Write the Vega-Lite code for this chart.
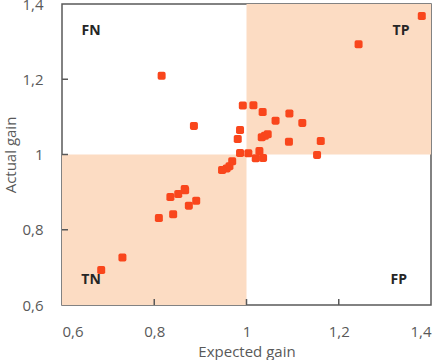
{
  "$schema": "https://vega.github.io/schema/vega-lite/v6.json",
  "width": 369,
  "height": 301,
  "autosize": {"type": "none"},
  "padding": {"left": 62, "top": 4, "right": 13, "bottom": 55},
  "background": "white",
  "config": {
    "font": "Open Sans",
    "view": {"stroke": "#595959", "strokeWidth": 1.5},
    "axis": {
      "grid": false,
      "domain": false,
      "ticks": false,
      "tickSize": 0,
      "labelFont": "Open Sans",
      "labelFontSize": 15,
      "labelColor": "#595959",
      "titleFont": "Open Sans",
      "titleFontSize": 15,
      "titleFontWeight": "normal",
      "titleColor": "#595959"
    }
  },
  "datasets": {
    "quadrants": [
      {"x0": 0.6, "x1": 1.0, "y0": 0.6, "y1": 1.0},
      {"x0": 1.0, "x1": 1.4, "y0": 1.0, "y1": 1.4}
    ],
    "ticks": [
      {"v": 0.8},
      {"v": 1.0},
      {"v": 1.2}
    ],
    "gains": [
      {"expected": 1.380, "actual": 1.368},
      {"expected": 1.243, "actual": 1.293},
      {"expected": 0.816, "actual": 1.209},
      {"expected": 0.886, "actual": 1.076},
      {"expected": 0.992, "actual": 1.130},
      {"expected": 1.015, "actual": 1.131},
      {"expected": 1.035, "actual": 1.113},
      {"expected": 1.093, "actual": 1.109},
      {"expected": 1.063, "actual": 1.090},
      {"expected": 1.121, "actual": 1.084},
      {"expected": 0.986, "actual": 1.065},
      {"expected": 0.981, "actual": 1.041},
      {"expected": 1.033, "actual": 1.046},
      {"expected": 1.040, "actual": 1.050},
      {"expected": 1.046, "actual": 1.054},
      {"expected": 1.092, "actual": 1.034},
      {"expected": 1.161, "actual": 1.036},
      {"expected": 0.986, "actual": 1.004},
      {"expected": 1.004, "actual": 1.003},
      {"expected": 1.028, "actual": 1.009},
      {"expected": 1.020, "actual": 0.990},
      {"expected": 1.036, "actual": 0.991},
      {"expected": 1.153, "actual": 0.999},
      {"expected": 0.969, "actual": 0.982},
      {"expected": 0.963, "actual": 0.969},
      {"expected": 0.957, "actual": 0.963},
      {"expected": 0.947, "actual": 0.959},
      {"expected": 0.866, "actual": 0.908},
      {"expected": 0.835, "actual": 0.887},
      {"expected": 0.852, "actual": 0.895},
      {"expected": 0.867, "actual": 0.905},
      {"expected": 0.875, "actual": 0.864},
      {"expected": 0.891, "actual": 0.877},
      {"expected": 0.810, "actual": 0.831},
      {"expected": 0.841, "actual": 0.841},
      {"expected": 0.731, "actual": 0.726},
      {"expected": 0.685, "actual": 0.693}
    ],
    "labels": [
      {"expected": 0.663, "actual": 1.328, "text": "FN"},
      {"expected": 1.335, "actual": 1.328, "text": "TP"},
      {"expected": 0.663, "actual": 0.667, "text": "TN"},
      {"expected": 1.330, "actual": 0.667, "text": "FP"}
    ]
  },
  "layer": [
    {
      "data": {"name": "quadrants"},
      "mark": {"type": "rect", "color": "#FCDCC3"},
      "encoding": {
        "x": {
          "field": "x0", "type": "quantitative",
          "scale": {"domain": [0.6, 1.4], "nice": false, "zero": false},
          "axis": {
            "title": "Expected gain",
            "values": [0.6, 0.8, 1, 1.2, 1.4],
            "labelExpr": "replace(format(datum.value, '~g'), '.', ',')",
            "labelPadding": 19,
            "titlePadding": 5
          }
        },
        "x2": {"field": "x1"},
        "y": {
          "field": "y0", "type": "quantitative",
          "scale": {"domain": [0.6, 1.4], "nice": false, "zero": false},
          "axis": {
            "title": "Actual gain",
            "values": [0.6, 0.8, 1, 1.2, 1.4],
            "labelExpr": "replace(format(datum.value, '~g'), '.', ',')",
            "labelPadding": 19,
            "titlePadding": 3
          }
        },
        "y2": {"field": "y1"}
      }
    },
    {
      "data": {"name": "ticks"},
      "mark": {"type": "rule", "color": "#595959", "strokeWidth": 1.5},
      "encoding": {
        "x": {"field": "v", "type": "quantitative"},
        "y": {"datum": 0.6},
        "y2": {"datum": 0.616}
      }
    },
    {
      "data": {"name": "ticks"},
      "mark": {"type": "rule", "color": "#595959", "strokeWidth": 1.5},
      "encoding": {
        "y": {"field": "v", "type": "quantitative"},
        "x": {"datum": 0.6},
        "x2": {"datum": 0.613}
      }
    },
    {
      "data": {"name": "gains"},
      "mark": {
        "type": "point",
        "filled": true,
        "shape": "M -1 -0.55 Q -1 -1 -0.55 -1 L 0.55 -1 Q 1 -1 1 -0.55 L 1 0.55 Q 1 1 0.55 1 L -0.55 1 Q -1 1 -1 0.55 Z",
        "size": 64,
        "color": "#F9461C",
        "opacity": 1
      },
      "encoding": {
        "x": {"field": "expected", "type": "quantitative"},
        "y": {"field": "actual", "type": "quantitative"}
      }
    },
    {
      "data": {"name": "labels"},
      "mark": {
        "type": "text",
        "font": "Open Sans",
        "fontSize": 14,
        "fontWeight": "bold",
        "color": "#262626"
      },
      "encoding": {
        "x": {"field": "expected", "type": "quantitative"},
        "y": {"field": "actual", "type": "quantitative"},
        "text": {"field": "text"}
      }
    }
  ]
}
